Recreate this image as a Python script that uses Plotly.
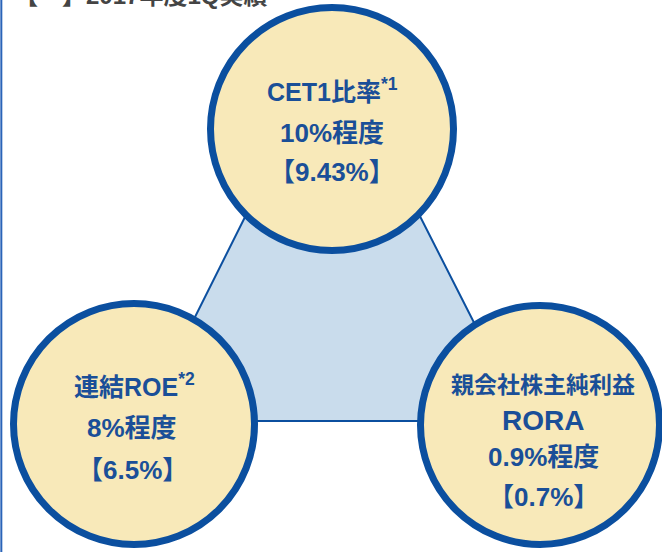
import plotly.graph_objects as go

# ---- data ----
metrics = ["CET1比率", "連結ROE", "親会社株主純利益"]
metric_sub = ["", "", "RORA"]
notes = ["*1", "*2", ""]
targets = ["10%程度", "8%程度", "0.9%程度"]
actuals = ["9.43%", "6.5%", "0.7%"]
title_text = "【　】2017年度1Q実績"

# ---- layout geometry (pixel space) ----
W, H = 662, 552
centers = [(332, 129), (134, 424), (540, 425)]
radii = [125, 124, 123]
tri = [(332, 43), (143, 421), (524, 421)]

BLUE = "#0b4f9f"
TXT = "#1a4f98"
FILL = "#f8e9b9"
TRI = "#c9dcec"
FONT = "Liberation Sans, Noto Sans CJK JP, Arial, sans-serif"

fig = go.Figure()

# triangle via a filled scatter trace
tx = [p[0] for p in tri] + [tri[0][0]]
ty = [p[1] for p in tri] + [tri[0][1]]
fig.add_trace(go.Scatter(x=tx, y=ty, mode="lines", fill="toself",
                         fillcolor=TRI, line=dict(color=BLUE, width=2),
                         hoverinfo="skip", showlegend=False))

shapes = []
bw = 7
for (cx, cy), r in zip(centers, radii):
    rr = r - bw / 2
    shapes.append(dict(type="circle", xref="x", yref="y",
                       x0=cx - rr, x1=cx + rr, y0=cy - rr, y1=cy + rr,
                       fillcolor=FILL, line=dict(color=BLUE, width=bw),
                       layer="above"))
# left vertical rule
shapes.append(dict(type="line", xref="paper", yref="paper", x0=0.002, x1=0.002,
                   y0=0, y1=1, line=dict(color="#2a64b8", width=2)))

ann = []
def add(x, y, text, size):
    ann.append(dict(x=x, y=y, xref="x", yref="y", text=text, showarrow=False,
                    xanchor="center", yanchor="middle",
                    font=dict(family=FONT, size=size, color=TXT)))

# top circle
add(332, 90, "<b>" + metrics[0] + "<sup>" + notes[0] + "</sup></b>", 25)
add(332, 133, "<b>" + targets[0] + "</b>", 26)
add(332, 172, "<b>【" + actuals[0] + "】</b>", 26)
# left circle
add(134, 385, "<b>" + metrics[1] + "<sup>" + notes[1] + "</sup></b>", 25)
add(132, 428, "<b>" + targets[1] + "</b>", 26)
add(132, 470, "<b>【" + actuals[1] + "】</b>", 26)
# right circle
add(543, 385, "<b>" + metrics[2] + "</b>", 23)
add(543, 420, "<b>" + metric_sub[2] + "</b>", 28)
add(543, 457, "<b>" + targets[2] + "</b>", 26)
add(543, 497, "<b>【" + actuals[2] + "】</b>", 26)

# title (cut off at top, as in the reference)
ann.append(dict(x=12 / W, y=1 + 4 / H, xref="paper", yref="paper",
                text="<b>" + title_text + "</b>",
                showarrow=False, xanchor="left", yanchor="middle",
                font=dict(family=FONT, size=24, color="#444444")))

fig.update_layout(
    width=W, height=H,
    margin=dict(l=0, r=0, t=0, b=0),
    paper_bgcolor="white", plot_bgcolor="white",
    xaxis=dict(range=[0, W], visible=False, fixedrange=True),
    yaxis=dict(range=[H, 0], visible=False, fixedrange=True),
    shapes=shapes, annotations=ann, showlegend=False,
)
fig.write_html("out.html", config={"displayModeBar": False},
               post_script="document.body.style.margin='0';document.body.style.overflow='hidden';")
